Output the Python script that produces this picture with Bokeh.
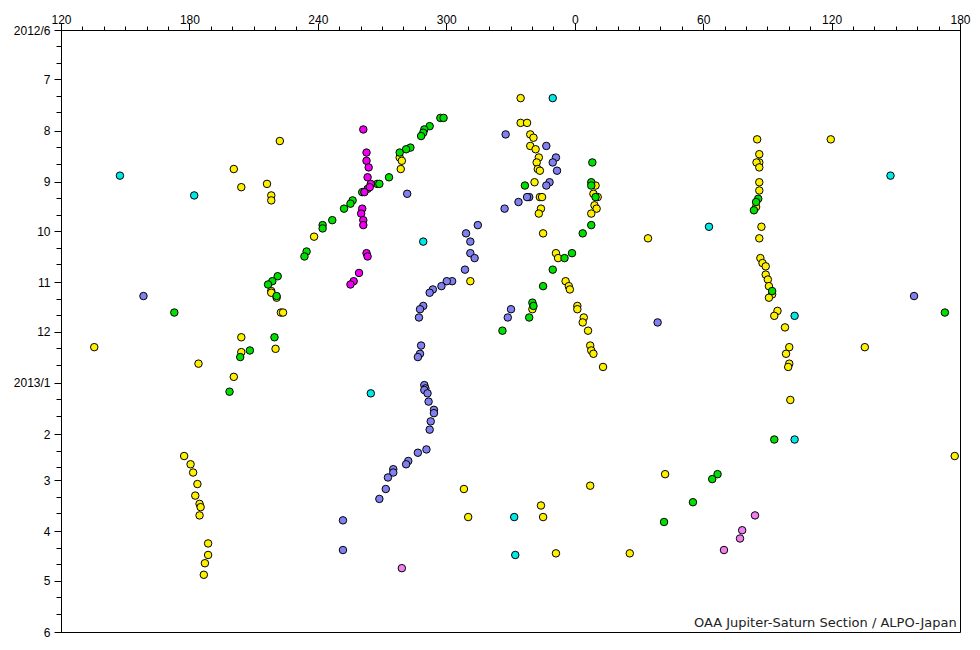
import pandas as pd
from bokeh.plotting import figure
from bokeh.models import Range1d, FixedTicker, Label
from bokeh.embed import file_html
from bokeh.resources import INLINE

START = "2012-06-01"

# --- longitude axis (System II, wraps through 0) ---
x_tick_values = [120, 180, 240, 300, 360, 420, 480, 540]
x_tick_labels = ["120", "180", "240", "300", "0", "60", "120", "180"]

# --- date axis ---
month_starts = ["2012-06-01", "2012-07-01", "2012-08-01", "2012-09-01", "2012-10-01",
                "2012-11-01", "2012-12-01", "2013-01-01", "2013-02-01", "2013-03-01",
                "2013-04-01", "2013-05-01", "2013-06-01"]
month_labels = ["2012/6", "7", "8", "9", "10", "11", "12", "2013/1", "2", "3", "4", "5", "6"]

# --- observations: longitude (deg, System II) and date ---
yellow_lon = [222, 200.5, 204, 216, 218, 218, 238, 218, 218, 220.5, 222.5, 223.5, 278, 279, 278.5,
              334.5, 334.5, 337.5, 339, 340.5, 339, 341.5, 343, 342, 342.5, 343.5, 341, 343.5, 344.5,
              344, 343, 345, 351, 352, 355.5, 357, 357.5, 340, 1, 1, 4, 3.5, 6, 7, 7.5, 8.5, 13,
              311, 9.5, 8.5, 10.5, 9, 10, 7.5, 34, 85, 119.4, 86, 86, 84.7, 86, 86, 86, 84.5,
              87, 86, 86.5, 87.5, 89, 89, 90, 90.5, 92, 90.5, 94.5, 93, 98, 100, 135.3, 98.5,
              100, 99.5, 100.5, 177.3, 184, 204, 204, 220, 200.5, 180.3, 181.5, 183.5, 182.5,
              184.5, 185, 184.5, 188.5, 188.5, 187, 186.5, 308, 7, 344, 345, 310, 351, 25.5, 42]
yellow_date = ["2012-08-07", "2012-08-24", "2012-09-04", "2012-09-02", "2012-09-09", "2012-09-12",
               "2012-10-04", "2012-11-06", "2012-11-07", "2012-11-10", "2012-11-19", "2012-11-19",
               "2012-08-17", "2012-08-19", "2012-08-24", "2012-07-12", "2012-07-27", "2012-07-27",
               "2012-08-03", "2012-08-05", "2012-08-10", "2012-08-12", "2012-08-17", "2012-08-20",
               "2012-08-24", "2012-08-25", "2012-09-01", "2012-09-10", "2012-09-10", "2012-09-17",
               "2012-09-20", "2012-10-02", "2012-10-14", "2012-10-17", "2012-10-31", "2012-11-03",
               "2012-11-05", "2012-11-17", "2012-11-15", "2012-11-17", "2012-11-22", "2012-11-25",
               "2012-11-30", "2012-12-09", "2012-12-12", "2012-12-14", "2012-12-22", "2012-10-31",
               "2012-09-03", "2012-09-08", "2012-09-10", "2012-09-15", "2012-09-17", "2012-09-20",
               "2012-10-05", "2012-08-06", "2012-08-06", "2012-08-15", "2012-08-20", "2012-08-20",
               "2012-08-23", "2012-09-01", "2012-09-06", "2012-09-16", "2012-09-28", "2012-10-05",
               "2012-10-17", "2012-10-20", "2012-10-22", "2012-10-27", "2012-10-30", "2012-11-03",
               "2012-11-08", "2012-11-10", "2012-11-18", "2012-11-21", "2012-11-28", "2012-12-10",
               "2012-12-10", "2012-12-14", "2012-12-20", "2012-12-22", "2013-01-11", "2013-02-14",
               "2012-12-20", "2012-12-04", "2012-12-13", "2012-12-11", "2012-12-28", "2013-02-19",
               "2013-02-24", "2013-03-03", "2013-03-10", "2013-03-15", "2013-03-17", "2013-03-22",
               "2013-04-08", "2013-04-15", "2013-04-20", "2013-04-27", "2013-03-06", "2013-03-04",
               "2013-03-16", "2013-03-23", "2013-03-23", "2013-04-14", "2013-04-14", "2013-02-25"]

green_lon = [297, 298.5, 292, 289.5, 289, 288, 283, 281, 278, 273, 267.5, 268.5, 263, 260.5, 256,
             255, 252, 246.5, 242, 242, 234.5, 233.5, 221, 218.5, 216.5, 220.5, 172.7, 208, 203.5,
             219.5, 198.5, 8, 7.5, 7.5, 9.5, 7.5, 3.5, 336.5, 355, 358.5, 349.5, 345, 340, 340.5,
             338.5, 326, 85.5, 84.5, 83.5, 92, 93, 66.5, 64, 55, 41.5]
green_date = ["2012-07-24", "2012-07-24", "2012-07-29", "2012-07-31", "2012-08-02", "2012-08-04",
              "2012-08-11", "2012-08-12", "2012-08-14", "2012-08-29", "2012-09-02", "2012-09-02",
              "2012-09-05", "2012-09-07", "2012-09-12", "2012-09-14", "2012-09-17", "2012-09-24",
              "2012-09-27", "2012-09-29", "2012-10-13", "2012-10-16", "2012-10-28", "2012-10-31",
              "2012-11-02", "2012-11-09", "2012-11-19", "2012-12-12", "2012-12-16", "2012-12-04",
              "2013-01-06", "2012-08-20", "2012-09-01", "2012-09-03", "2012-09-10", "2012-09-27",
              "2012-10-02", "2012-09-03", "2012-10-17", "2012-10-14", "2012-10-24", "2012-11-03",
              "2012-11-13", "2012-11-15", "2012-11-22", "2012-11-30", "2012-09-11", "2012-09-13",
              "2012-09-18", "2012-11-06", "2013-02-04", "2013-02-25", "2013-02-28", "2013-03-14",
              "2013-03-26"]

blue_lon = [327.5, 346.5, 351, 349.5, 351.5, 348, 346.5, 338.5, 337.5, 333.5, 327, 281.5, 314.5,
            309, 311, 311, 313, 308.5, 302.5, 300, 297.5, 293.5, 292, 289, 287.5, 287, 158.3, 38.5,
            330, 328.5, 288, 287.5, 286.5, 289.5, 290, 289.5, 291, 291.5, 294, 294, 292.5, 292,
            290.5, 286.5, 282, 281, 275, 275, 272.5, 271.5, 268.5, 251.5, 251.5]
blue_date = ["2012-08-03", "2012-08-10", "2012-08-17", "2012-08-20", "2012-08-25", "2012-09-01",
             "2012-09-03", "2012-09-10", "2012-09-10", "2012-09-13", "2012-09-17", "2012-09-08",
             "2012-09-27", "2012-10-02", "2012-10-07", "2012-10-14", "2012-10-17", "2012-10-24",
             "2012-10-31", "2012-10-31", "2012-11-03", "2012-11-05", "2012-11-07", "2012-11-15",
             "2012-11-17", "2012-11-22", "2012-11-09", "2012-11-25", "2012-11-17", "2012-11-22",
             "2012-12-09", "2012-12-14", "2012-12-16", "2013-01-02", "2013-01-04", "2013-01-05",
             "2013-01-07", "2013-01-12", "2013-01-17", "2013-01-19", "2013-01-24", "2013-01-29",
             "2013-02-10", "2013-02-12", "2013-02-17", "2013-02-19", "2013-02-22", "2013-02-24",
             "2013-02-27", "2013-03-06", "2013-03-12", "2013-03-25", "2013-04-12"]

magenta_lon = [261, 262.5, 262.5, 263.5, 263, 264.5, 264, 261.5, 260.5, 260, 261, 261, 262.5, 263,
               259, 256.5, 255]
magenta_date = ["2012-07-31", "2012-08-14", "2012-08-19", "2012-08-23", "2012-08-29", "2012-09-02",
                "2012-09-04", "2012-09-07", "2012-09-17", "2012-09-20", "2012-09-24", "2012-09-27",
                "2012-10-14", "2012-10-16", "2012-10-26", "2012-10-31", "2012-11-02"]

pink_lon = [279, 84, 78, 77, 69.5]
pink_date = ["2013-04-23", "2013-03-22", "2013-03-31", "2013-04-05", "2013-04-12"]

cyan_lon = [147.3, 349.5, 182, 289, 62.5, 102.5, 264.5, 102.5, 331.5, 332]
cyan_date = ["2012-08-28", "2012-07-12", "2012-09-09", "2012-10-07", "2012-09-28", "2012-11-21",
             "2013-01-07", "2013-02-04", "2013-03-23", "2013-04-15"]

series = [
    (yellow_lon, yellow_date, "#fff000"),
    (green_lon, green_date, "#00e000"),
    (blue_lon, blue_date, "#8080f0"),
    (magenta_lon, magenta_date, "#f000f0"),
    (cyan_lon, cyan_date, "#00e8e8"),
    (pink_lon, pink_date, "#f080f0"),
]

start = pd.Timestamp(START)


def days_of(dates):
    return [(pd.Timestamp(d) - start).days for d in dates]


def to_xy(lons, dates):
    xs, ys = [], []
    for lon, d in zip(lons, days_of(dates)):
        xs.append(lon if lon >= 120 else lon + 360)
        ys.append(d)
        if 120 <= lon <= 180:  # the 120-180 strip is shown on both sides
            xs.append(lon + 360)
            ys.append(d)
    return xs, ys


month_days = days_of(month_starts)
minor_days = []
for ms in month_starts[:-1]:
    t = pd.Timestamp(ms)
    minor_days += [(t + pd.Timedelta(days=10) - start).days, (t + pd.Timedelta(days=20) - start).days]

p = figure(frame_width=899, frame_height=602, output_backend="svg", toolbar_location=None,
           x_range=Range1d(x_tick_values[0], x_tick_values[-1]),
           y_range=Range1d(month_days[-1], month_days[0]),
           x_axis_location="above", y_axis_location="left",
           min_border_left=61, min_border_top=30, min_border_right=12, min_border_bottom=10,
           background_fill_color="white", border_fill_color="white")
p.xgrid.visible = False
p.ygrid.visible = False
p.outline_line_color = "black"
p.outline_line_width = 1
p.outline_line_alpha = 1

xa = p.xaxis[0]
xa.ticker = FixedTicker(ticks=x_tick_values, minor_ticks=list(range(120, 541, 10)))
xa.major_label_overrides = {v: l for v, l in zip(x_tick_values, x_tick_labels)}
ya = p.yaxis[0]
ya.ticker = FixedTicker(ticks=month_days, minor_ticks=minor_days)
ya.major_label_overrides = {v: l for v, l in zip(month_days, month_labels)}

for ax in (xa, ya):
    ax.axis_line_color = "black"
    ax.major_tick_line_color = "black"
    ax.minor_tick_line_color = "black"
    ax.major_tick_in = 0
    ax.minor_tick_in = 0
    ax.major_tick_out = 7
    ax.major_label_text_font = "Liberation Sans"
    ax.major_label_text_font_size = "12px"
    ax.major_label_text_color = "black"
xa.minor_tick_out = 4
ya.minor_tick_out = 5
xa.major_label_standoff = 0
ya.major_label_standoff = 4

for lons, dates, color in series:
    xs, ys = to_xy(lons, dates)
    p.scatter(xs, ys, size=7.5, fill_color=color, line_color="black", line_width=1)

p.add_layout(Label(x=538.2, y=363.3, text="OAA Jupiter-Saturn Section / ALPO-Japan",
                   text_align="right", text_baseline="bottom",
                   text_font="DejaVu Sans", text_font_size="13px", text_color="#222222"))

open("out.html", "w").write(file_html(p, INLINE))
